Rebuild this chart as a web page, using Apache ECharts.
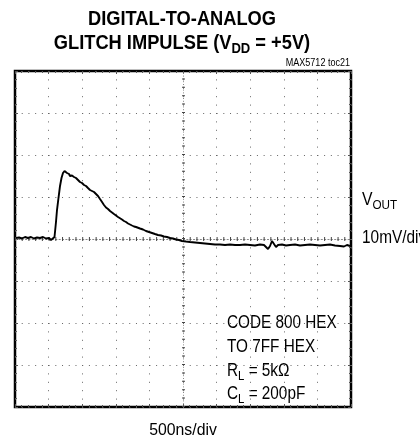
<!DOCTYPE html>
<html><head><meta charset="utf-8">
<script src="https://cdn.jsdelivr.net/npm/echarts@6/dist/echarts.min.js"></script>
<style>html,body{margin:0;padding:0;background:#fff}#c{width:420px;height:442px}</style>
</head><body><div id="c"></div>
<script>
// time relative to screen centre (ns), 500 ns/div, 10 divisions
const timeNs = [-2485,-2440,-2396,-2351,-2307,-2262,-2217,-2173,-2128,-2083,-2039,-1994,-1964,-1935,-1912,
  -1890,-1875,-1853,-1830,-1808,-1786,-1763,-1741,-1726,-1696,-1682,-1652,-1622,-1592,-1563,-1533,-1503,
  -1473,-1443,-1414,-1384,-1354,-1324,-1295,-1265,-1235,-1205,-1176,-1146,-1116,-1086,-1057,-1027,-997,
  -967,-938,-908,-878,-848,-818,-789,-759,-729,-699,-670,-640,-595,-551,-506,-461,-417,-372,-327,-283,
  -238,-193,-149,-104,-60,-15,45,104,179,253,327,402,476,551,625,699,774,848,923,997,1071,1146,1205,1235,
  1265,1295,1324,1354,1384,1414,1473,1533,1592,1667,1741,1815,1890,1964,2039,2113,2188,2262,2336,2396,2440,2485];
// VOUT deviation (mV), 10 mV/div
const voutMv = [0.24,0.36,0.12,0.48,0.24,0.48,0.12,0.36,0.24,0.48,0.12,0.24,-0.24,-0.12,0.48,
  4.05,6.90,9.76,12.62,14.52,15.71,16.19,16.07,15.71,15.48,15.0,15.12,14.76,14.52,14.05,13.57,13.33,
  12.86,12.62,12.14,11.67,11.43,11.19,10.83,10.24,9.52,8.81,8.10,7.50,7.14,6.67,6.31,5.95,5.60,
  5.24,4.88,4.64,4.29,4.05,3.69,3.45,3.21,2.98,2.86,2.62,2.50,2.26,1.90,1.67,1.43,1.19,0.95,0.83,0.60,
  0.48,0.24,0.12,-0.12,-0.24,-0.48,-0.60,-0.71,-0.83,-0.95,-1.07,-1.19,-1.31,-1.31,-1.43,-1.31,-1.43,-1.43,-1.31,-1.43,-1.55,-1.31,-1.43,-1.90,
  -2.38,-1.67,-0.48,-1.19,-1.90,-1.43,-1.31,-1.55,-1.43,-1.31,-1.55,-1.43,-1.31,-1.43,-1.55,-1.43,-1.31,-1.55,-1.67,-1.79,-1.43,-1.67];

const xRange = [-2500, 2500], xStep = 500;
const yRange = [-40, 40], yStep = 10;

const titleLine1 = 'DIGITAL-TO-ANALOG';
const titleLine2 = ['GLITCH IMPULSE (V', 'DD', ' = +5V)'];
const tocLabel = 'MAX5712 toc21';
const yLabel = ['V', 'OUT'];
const yScaleLabel = '10mV/div';
const xScaleLabel = '500ns/div';
const noteLines = ['CODE 800 HEX', 'TO 7FF HEX'];
const noteRL = ['R', 'L', ' = 5kΩ'];
const noteCL = ['C', 'L', ' = 200pF'];

const FONT = "'Liberation Sans', Arial, Helvetica, sans-serif";
const data = timeNs.map((t, i) => [t, voutMv[i]]);

const G = { left: 15, top: 71, width: 336, height: 336 };
const dotV = [1, 7.4];   // dots every minor division vertically
const dotH = [1, 5.72];  // dots every minor division horizontally

function edgeX(pos) {
  return {
    type: 'value', min: xRange[0], max: xRange[1], interval: xStep, position: pos,
    axisLine: { show: false, onZero: false },
    axisTick: { show: true, inside: true, length: 3, lineStyle: { color: '#555' } },
    minorTick: { show: true, splitNumber: 5, length: 2, lineStyle: { color: '#555' } },
    axisLabel: { show: false },
    splitLine: pos === 'bottom' ? { show: true, lineStyle: { color: '#666', width: 1, type: dotV } } : { show: false }
  };
}
function edgeY(pos) {
  return {
    type: 'value', min: yRange[0], max: yRange[1], interval: yStep, position: pos,
    axisLine: { show: false, onZero: false },
    axisTick: { show: true, inside: true, length: 3, lineStyle: { color: '#555' } },
    minorTick: { show: true, splitNumber: 5, length: 2, lineStyle: { color: '#555' } },
    axisLabel: { show: false },
    splitLine: pos === 'left' ? { show: true, lineStyle: { color: '#666', width: 1, type: dotH } } : { show: false }
  };
}

const baseStyle = (extra) => Object.assign({ fontFamily: FONT, fill: '#000',
  align: 'left', textAlign: 'left', verticalAlign: 'middle', textVerticalAlign: 'middle' }, extra || {});
const txt = (x, y, text, size, sx, extra) => ({
  type: 'text', x, y, scaleX: sx, silent: true,
  style: baseStyle(Object.assign({ text, fontSize: size }, extra || {}))
});
const subTxt = (x, y, parts, size, sx, bold, extra) => {
  const w = bold ? 'bold' : 'normal';
  const sub = Math.round(size * 0.72);
  const rich = {
    a: { fontSize: size, fontFamily: FONT, fontWeight: w, lineHeight: size + 6 },
    s: { fontSize: sub, fontFamily: FONT, fontWeight: w, lineHeight: sub, verticalAlign: 'bottom' }
  };
  const text = parts.map((p, i) => (i === 1 ? '{s|' : '{a|') + p + '}').join('');
  return { type: 'text', x, y, scaleX: sx, silent: true,
    style: baseStyle(Object.assign({ text, rich, fontSize: size, fontWeight: w }, extra || {})) };
};

const chart = echarts.init(document.getElementById('c'), null, { renderer: 'canvas' });
chart.setOption({
  animation: false,
  backgroundColor: '#fff',
  grid: { left: G.left, top: G.top, width: G.width, height: G.height, show: true, borderColor: '#000', borderWidth: 2.5, backgroundColor: 'transparent' },
  xAxis: [edgeX('bottom'), edgeX('top')],
  yAxis: [edgeY('left'), edgeY('right')],
  series: [{
    type: 'line', data, xAxisIndex: 0, yAxisIndex: 0,
    showSymbol: false, symbol: 'none', smooth: false,
    lineStyle: { color: '#000', width: 1.9 },
    z: 5,
    markLine: {
      silent: true, symbol: 'none', label: { show: false }, animation: false,
      data: [
        { yAxis: 0, lineStyle: { color: '#888', width: 1, type: [2, 1.36] } },
        { yAxis: 0, lineStyle: { color: '#444', width: 4, type: dotH } },
        { xAxis: 0, lineStyle: { color: '#888', width: 1, type: [1, 1.8] } },
        { xAxis: 0, lineStyle: { color: '#444', width: 3, type: dotV } }
      ]
    }
  }],
  graphic: [
    txt(182, 19, titleLine1, 21, 0.87, { fontWeight: 'bold', align: 'center', textAlign: 'center' }),
    subTxt(182, 43, titleLine2, 21, 0.87, true, { align: 'center', textAlign: 'center' }),
    txt(350, 63, tocLabel, 10.5, 0.86, { align: 'right', textAlign: 'right' }),
    subTxt(362, 200, yLabel, 17.5, 0.9, false),
    txt(362, 238, yScaleLabel, 17.5, 0.88),
    txt(183, 430, xScaleLabel, 17, 0.93, { align: 'center', textAlign: 'center' }),
    txt(227, 323, noteLines[0], 17.5, 0.875),
    txt(227, 347, noteLines[1], 17.5, 0.875),
    subTxt(227, 371, noteRL, 17.5, 0.875, false),
    subTxt(227, 394, noteCL, 17.5, 0.875, false)
  ]
});
</script></body></html>
